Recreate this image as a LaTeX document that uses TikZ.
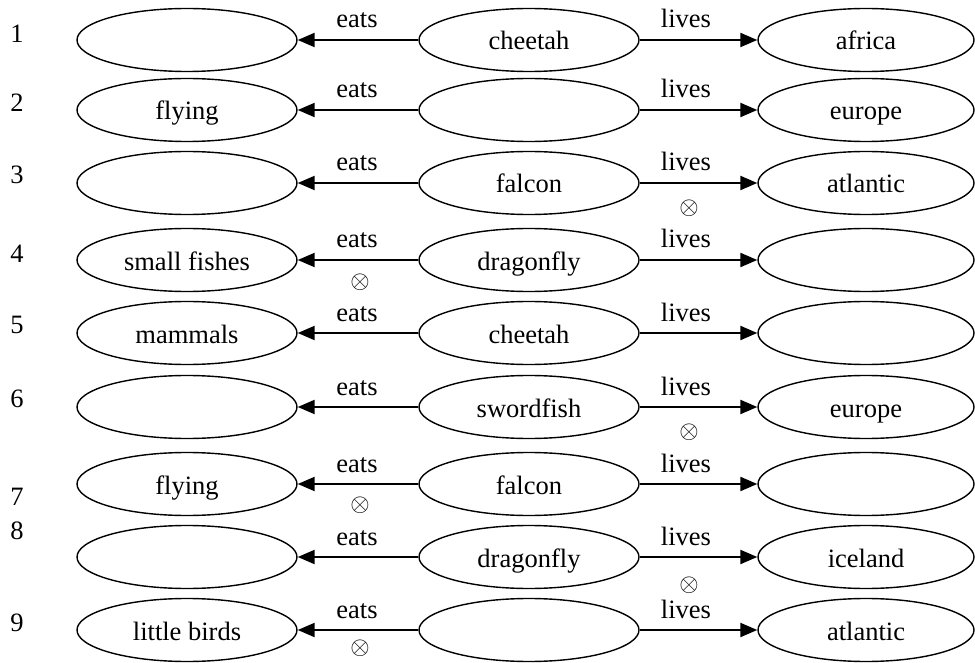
\documentclass[tikz,border=0pt]{standalone}
\usepackage{fontspec}
\setmainfont{Liberation Serif}
\usetikzlibrary{shapes.geometric,arrows.meta}
\begin{document}
\begin{tikzpicture}[x=1pt,y=-1pt,
  ell/.style={draw,ellipse,line width=1.4pt,minimum width=220pt,minimum height=63pt,inner sep=0pt},
  rell/.style={ell,minimum width=216pt},
  txt/.style={anchor=base,inner sep=0pt,font=\fontsize{26.5}{30}\selectfont},
  arr/.style={line width=2.2pt,-{Triangle[length=17pt,width=14pt]}},
  xsym/.style={inner sep=0pt,font=\fontsize{26}{30}\selectfont}
]
\useasboundingbox (0,0) rectangle (975,663);
\foreach \i/\y/\ny/\a/\b/\c in {
  1/40/34//cheetah/africa,
  2/110/103/flying//europe,
  3/183/175//falcon/atlantic,
  4/260/253/small fishes/dragonfly/,
  5/333/324/mammals/cheetah/,
  6/407/398//swordfish/europe,
  7/484/496/flying/falcon/,
  8/557/530//dragonfly/iceland,
  9/630/622/little birds//atlantic}{
  \node[ell] (a\i) at (187,\y) {};
  \node[ell] (b\i) at (529,\y) {};
  \node[rell] (c\i) at (866,\y) {};
  \node[txt] (ta\i) at (187,\y+10) {\a};
  \node[txt] (tb\i) at (529,\y+10) {\b};
  \node[txt] (tc\i) at (866,\y+10) {\c};
  \draw[arr] (b\i) -- (a\i);
  \draw[arr] (b\i) -- (c\i);
  \node[txt] (e\i) at (357,\y-12) {eats};
  \node[txt] (l\i) at (686,\y-12) {lives};
  \node[txt] (n\i) at (17,\ny+9) {\i};
}
\node[xsym] (x3) at (689,208) {$\otimes$};
\node[xsym] (x4) at (360,282) {$\otimes$};
\node[xsym] (x6) at (689,432) {$\otimes$};
\node[xsym] (x7) at (360,505) {$\otimes$};
\node[xsym] (x8) at (689,585) {$\otimes$};
\node[xsym] (x9) at (360,648) {$\otimes$};
\end{tikzpicture}
\end{document}
